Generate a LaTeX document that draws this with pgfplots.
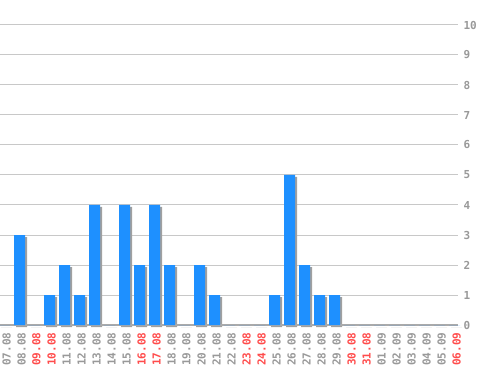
\documentclass[border=0pt]{standalone}
\usepackage{fontspec}
\usepackage{pgfplots}
\pgfplotsset{compat=1.18}
\newfontfamily\lab{DejaVu Sans Mono}
\definecolor{barblue}{HTML}{1E90FF}
\definecolor{shadowgray}{HTML}{A0A0A0}
\definecolor{labgray}{HTML}{999999}
\definecolor{labred}{HTML}{FF4C4C}
\definecolor{gridgray}{HTML}{C8C8C8}
\definecolor{basegray}{HTML}{AAAAAA}
\pgfplotstableread{
x y
0 0
1 3
2 0
3 1
4 2
5 1
6 4
7 0
8 4
9 2
10 4
11 2
12 0
13 2
14 1
15 0
16 0
17 0
18 1
19 5
20 2
21 1
22 1
23 0
24 0
25 0
26 0
27 0
28 0
29 0
30 0
}\datatable
\begin{document}
\begin{tikzpicture}
\useasboundingbox (0pt,0pt) rectangle (498pt,370pt);
\begin{axis}[
  at={(0pt,45pt)}, anchor=south west,
  scale only axis, width=458pt, height=325pt,
  xmin=-0.3, xmax=30.23, ymin=0, ymax=10.8333,
  clip=false,
  axis line style={draw=none},
  major tick length=0pt,
  /pgf/number format/assume math mode=true,
  xtick={0,...,30},
  xticklabels={07.08,08.08,\textcolor{labred}{09.08},\textcolor{labred}{10.08},11.08,12.08,13.08,14.08,15.08,\textcolor{labred}{16.08},\textcolor{labred}{17.08},18.08,19.08,20.08,21.08,22.08,\textcolor{labred}{23.08},\textcolor{labred}{24.08},25.08,26.08,27.08,28.08,29.08,\textcolor{labred}{30.08},\textcolor{labred}{31.08},01.09,02.09,03.09,04.09,05.09,\textcolor{labred}{06.09}},
  xticklabel style={font=\lab\bfseries\fontsize{11}{11}\selectfont, text=labgray, xshift=2pt, yshift=-4pt, rotate=90, anchor=east},
  ytick={0,...,10},
  yticklabel pos=right,
  yticklabel style={font=\lab\bfseries\fontsize{11}{11}\selectfont, text=labgray, anchor=west, xshift=2pt},
  ymajorgrids, grid style={gridgray, line width=1pt},
]
\addplot[ybar, bar width=11pt, bar shift=2pt, yshift=-2pt, fill=shadowgray, draw=none] table[x=x,y=y] {\datatable};
\draw[basegray, line width=1.2pt] (axis cs:-0.3,0) -- (axis cs:30.23,0);
\addplot[ybar, bar width=11pt, bar shift=0pt, fill=barblue, draw=none] table[x=x,y=y] {\datatable};
\end{axis}
\end{tikzpicture}
\end{document}
